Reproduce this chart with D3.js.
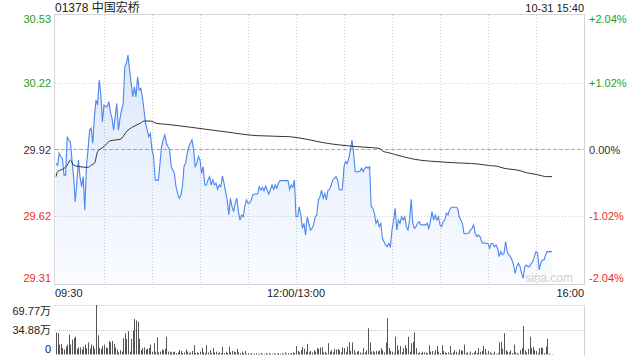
<!DOCTYPE html>
<html>
<head>
<meta charset="utf-8">
<script src="https://cdn.jsdelivr.net/npm/d3@7"></script>
<style>
    body { margin: 0; background: #fff; }
    svg { display: block; }
    text { font-family: "Liberation Sans", Arial, "Noto Sans CJK SC", sans-serif; }
</style>
</head>
<body>
<svg width="640" height="360"></svg>
<script>
var stockTitle = "01378 中国宏桥";
var stampText = "10-31 15:40";
var prevClose = 29.92;

// y ticks (price / percent)
var priceTicks = [30.53, 30.22, 29.92, 29.62, 29.31];
var pctTicks = ["+2.04%", "+1.02%", "0.00%", "-1.02%", "-2.04%"];
var timeLabels = ["09:30", "12:00/13:00", "16:00"];
var timeLabelMinutes = [0, 150, 330];
var volTicks = [69.77, 34.88, 0];

// one value per minute, 09:30 - 11:59
var amPrices = [
    29.857, 29.849, 29.902, 29.887, 29.880, 29.804, 29.804, 29.978, 29.963, 29.955,
    29.872, 29.797, 29.683, 29.766, 29.872, 29.797, 29.751, 29.797, 29.645, 29.842,
    29.918, 30.008, 30.016, 29.948, 30.069, 30.144, 30.122, 30.235, 30.174, 30.046,
    30.122, 30.114, 30.114, 30.137, 30.091, 30.061, 30.008, 30.069, 30.129, 30.008,
    30.061, 30.099, 30.129, 30.295, 30.311, 30.348, 30.280, 30.220, 30.159, 30.205,
    30.159, 30.250, 30.190, 30.197, 30.159, 30.099, 30.038, 30.008, 29.978, 29.993,
    29.918, 29.887, 29.781, 29.781, 29.781, 29.857, 29.933,
    29.964, 29.986, 29.948, 29.933, 29.918, 29.843, 29.827, 29.812, 29.752, 29.722,
    29.699, 29.710, 29.752, 29.843, 29.858, 29.903, 29.933, 29.948, 29.964, 29.918,
    29.843, 29.858, 29.888, 29.873,
    29.812, 29.842, 29.759, 29.759, 29.782, 29.797, 29.759, 29.782, 29.759, 29.767,
    29.739, 29.759, 29.751, 29.800, 29.767, 29.729, 29.691, 29.623, 29.699, 29.661,
    29.638, 29.676, 29.699, 29.638, 29.600, 29.623, 29.615, 29.661, 29.691, 29.676,
    29.676, 29.691, 29.714, 29.718, 29.718, 29.718, 29.751, 29.736, 29.748, 29.733,
    29.754, 29.736, 29.718, 29.736, 29.759, 29.739, 29.759, 29.744, 29.767, 29.779,
    29.779, 29.779, 29.779, 29.779, 29.779, 29.739, 29.759, 29.748, 29.782
];

// one value per minute, 13:00 - 15:40
var pmPrices = [
    29.615, 29.615, 29.661, 29.623, 29.562, 29.585, 29.532, 29.615, 29.585, 29.555,
    29.562, 29.578, 29.615, 29.623, 29.691, 29.706, 29.736, 29.699, 29.721, 29.691,
    29.736, 29.739, 29.759, 29.782, 29.789, 29.797, 29.782, 29.739, 29.736, 29.739,
    29.842, 29.865, 29.857, 29.880, 29.918, 29.963, 29.903, 29.819, 29.819, 29.819,
    29.822, 29.835, 29.819, 29.835, 29.842, 29.835, 29.842, 29.661, 29.653, 29.630,
    29.585, 29.600, 29.570,
    29.585, 29.517, 29.502, 29.487, 29.479, 29.494, 29.479, 29.555, 29.600, 29.653,
    29.555, 29.600, 29.585, 29.615, 29.600, 29.615, 29.570, 29.555, 29.600, 29.694,
    29.585, 29.562, 29.570, 29.585, 29.593, 29.578, 29.578, 29.578, 29.578, 29.585,
    29.562, 29.593, 29.638, 29.600, 29.623, 29.600, 29.615, 29.578, 29.570, 29.593,
    29.600, 29.631, 29.623, 29.646, 29.658, 29.658, 29.658, 29.658, 29.653, 29.615,
    29.600, 29.585, 29.540, 29.537, 29.540, 29.540, 29.555, 29.562, 29.578, 29.540,
    29.525, 29.532, 29.525, 29.502, 29.494, 29.497, 29.494, 29.494, 29.472, 29.494,
    29.494, 29.479, 29.487, 29.472, 29.434, 29.457, 29.442, 29.449, 29.502, 29.457,
    29.442, 29.434, 29.419, 29.396, 29.358, 29.389, 29.404, 29.389, 29.358, 29.336,
    29.389, 29.396, 29.389, 29.389, 29.404, 29.411, 29.434, 29.457, 29.449, 29.374,
    29.404, 29.419, 29.419, 29.442, 29.457, 29.457, 29.457, 29.457
];

// average price line, read at these minutes
var avgMinutes = [0, 1, 3, 5, 7, 9, 11, 15, 20, 22, 24, 26, 30, 34, 40, 45, 49, 53, 55, 59, 63, 68,
    84, 105, 125, 146, 157, 167, 188, 202, 205, 207, 213, 223, 244, 265, 271, 275, 280, 290, 294, 300, 307, 310];
var avgPrices = [29.797, 29.819, 29.827, 29.834, 29.849, 29.872, 29.849, 29.842, 29.839, 29.849, 29.857,
    29.910, 29.933, 29.960, 29.966, 30.008, 30.026, 30.041, 30.049, 30.049, 30.038, 30.035,
    30.021, 30.001, 29.983, 29.978, 29.966, 29.951, 29.933, 29.925, 29.910, 29.907, 29.895, 29.877,
    29.862, 29.853, 29.847, 29.845, 29.835, 29.824, 29.815, 29.807, 29.797, 29.797];

// volume per minute, unit 万
var volumes = [
    31, 30, 14, 15, 9, 7, 11, 14, 28, 14,
    21, 23, 25, 8, 10, 10, 7, 11, 14, 9,
    17, 8, 14, 12, 8, 69.77, 27, 9, 8, 12,
    14, 10, 9, 19, 17, 19, 15, 10, 7, 3,
    6, 4, 23, 30, 22, 33, 4, 22, 34, 50,
    48, 46, 22, 6, 9, 10, 7, 8, 9, 14,
    4, 16, 4, 24, 3, 4, 7, 6, 8, 25,
    4, 4, 3, 3, 4, 2, 3, 6, 5, 2,
    3, 7, 4, 2, 3, 5, 13, 2, 3, 2,
    4, 9, 3, 2, 13, 3, 6, 2, 9, 3,
    4, 2, 3, 2, 11, 2, 4, 2, 11, 3,
    5, 4, 3, 8, 3, 2, 4, 2, 5, 1,
    2, 1, 2, 1, 1, 2, 1, 1, 2, 1,
    1, 2, 1, 2, 1, 1, 2, 1, 1, 2,
    1, 2, 1, 3, 1, 2, 1, 2, 3, 2,
    12, 5, 3, 6, 11, 8, 4, 15, 3, 5,
    3, 6, 4, 9, 8, 10, 10, 3, 4, 2,
    16, 4, 6, 3, 8, 7, 8, 6, 3, 10,
    9, 3, 11, 17, 5, 17, 6, 2, 4, 5,
    3, 2, 9, 3, 6, 37, 17, 4, 5, 3,
    5, 4, 6, 9, 6, 3, 17, 51, 9, 5,
    4, 2, 25, 13, 6, 12, 3, 9, 13, 9,
    25, 4, 16, 18, 31, 9, 2, 3, 2, 4,
    3, 3, 2, 13, 4, 5, 2, 6, 12, 4,
    2, 13, 5, 3, 2, 3, 12, 2, 3, 6,
    4, 2, 7, 6, 5, 14, 2, 3, 1, 4,
    2, 3, 5, 2, 9, 4, 5, 12, 8, 2,
    5, 3, 2, 1, 4, 1, 2, 17, 18, 8,
    30, 6, 4, 3, 6, 2, 14, 3, 2, 1,
    6, 9, 40, 6, 3, 8, 25, 9, 11, 6,
    5, 2, 9, 10, 9, 2, 11, 22, 1, 0.5,
    0.5
];

var prices = amPrices.concat(pmPrices);
var green = "#1e9e1e", red = "#ee2a24", grey = "#d4d4d4";

var svg = d3.select('body').select('svg');

var x = d3.scaleLinear().domain([0, 330]).range([56, 584]);
var y = d3.scaleLinear().domain([priceTicks[4], priceTicks[0]]).range([284, 15]);
var yv = d3.scaleLinear().domain([0, volTicks[0]]).range([354.5, 305]);

function tickColor(i) {
    if (i < 2) return green;
    if (i > 2) return red;
    return "#333";
}

// gradient for the price area
var grad = svg.append("defs").append("linearGradient")
        .attr("id", "areaFill")
        .attr("gradientUnits", "userSpaceOnUse")
        .attr("x1", 0).attr("y1", 15).attr("x2", 0).attr("y2", 284);
grad.append("stop").attr("offset", 0).attr("stop-color", "#4a86ee").attr("stop-opacity", 0.22);
grad.append("stop").attr("offset", 1).attr("stop-color", "#4a86ee").attr("stop-opacity", 0.03);

// vertical grid, every 30 minutes
var gridMinutes = d3.range(30, 330, 30);
svg.append("g").selectAll("line").data(gridMinutes).enter().append("line")
        .attr('x1', function (d) { return Math.round(x(d)) + 0.5; })
        .attr('x2', function (d) { return Math.round(x(d)) + 0.5; })
        .attr('y1', 15).attr('y2', 284)
        .style('stroke', "#d0d0d0")
        .style('stroke-dasharray', "1,2");

// horizontal grid
svg.append("g").selectAll("line").data(priceTicks.slice(1, 4)).enter().append("line")
        .attr('x1', 55).attr('x2', 584)
        .attr('y1', function (d) { return Math.round(y(d)) + 0.5; })
        .attr('y2', function (d) { return Math.round(y(d)) + 0.5; })
        .style('stroke', function (d, i) { return i == 1 ? "#a8a8a8" : "#d0d0d0"; })
        .style('stroke-dasharray', function (d, i) { return i == 1 ? "4,2" : "1,2"; });

// price area + line
var area = d3.area()
        .x(function (d, i) { return x(i); })
        .y0(y(priceTicks[4]))
        .y1(function (d) { return y(d); });
svg.append("path").datum(prices)
        .attr("d", area)
        .style("fill", "url(#areaFill)");

var line = d3.line()
        .x(function (d, i) { return x(i); })
        .y(function (d) { return y(d); });
svg.append("path").datum(prices)
        .attr("d", line)
        .style("fill", "none")
        .style("stroke", "#4a86ee")
        .style("stroke-width", 1.1);

// average price
var avgLine = d3.line()
        .x(function (d, i) { return x(avgMinutes[i]); })
        .y(function (d) { return y(d); })
        .curve(d3.curveMonotoneX);
svg.append("path").datum(avgPrices)
        .attr("d", avgLine)
        .style("fill", "none")
        .style("stroke", "#333")
        .style("stroke-width", 1);

// frame of the price panel
svg.append("rect")
        .attr('x', 54.5).attr('y', 14.5)
        .attr('width', 530).attr('height', 270)
        .style('fill', "none")
        .style('stroke', grey);

svg.append("text")
        .attr('x', 573).attr('y', 282)
        .attr('text-anchor', "end")
        .style('font-size', "12px")
        .style('fill', "#cfcfcf")
        .text("sina.com");

// left / right labels
svg.append("g").selectAll("text").data(priceTicks).enter().append("text")
        .attr('x', 51)
        .attr('y', function (d, i) { return y(d) + (i == 0 ? 8 : (i == 4 ? -2 : 4)); })
        .attr('text-anchor', "end")
        .style('font-size', "11px")
        .style('fill', function (d, i) { return tickColor(i); })
        .text(function (d) { return d.toFixed(2); });

svg.append("g").selectAll("text").data(pctTicks).enter().append("text")
        .attr('x', 589)
        .attr('y', function (d, i) { return y(priceTicks[i]) + (i == 0 ? 8 : (i == 4 ? -2 : 4)); })
        .style('font-size', "11px")
        .style('fill', function (d, i) { return tickColor(i); })
        .text(function (d) { return d; });

// title and time stamp
svg.append("text")
        .attr('x', 55).attr('y', 12)
        .style('font-size', "12px")
        .style('fill', "#222")
        .text(stockTitle);
svg.append("text")
        .attr('x', 584).attr('y', 12)
        .attr('text-anchor', "end")
        .style('font-size', "11px")
        .style('fill', "#222")
        .text(stampText);

// time axis labels
svg.append("g").selectAll("text").data(timeLabels).enter().append("text")
        .attr('x', function (d, i) { return x(timeLabelMinutes[i]) + (i == 0 ? -1 : 0); })
        .attr('y', 297)
        .attr('text-anchor', function (d, i) { return ["start", "middle", "end"][i]; })
        .style('font-size', "11px")
        .style('fill', "#222")
        .text(function (d) { return d; });

// volume panel
svg.append("g").selectAll("line").data(volTicks.slice(0, 2)).enter().append("line")
        .attr('x1', 55).attr('x2', 584)
        .attr('y1', function (d) { return Math.round(yv(d)) + 0.5; })
        .attr('y2', function (d) { return Math.round(yv(d)) + 0.5; })
        .style('stroke', "#c8c8c8")
        .style('stroke-dasharray', "1,1");
svg.append("line")
        .attr('x1', 584.5).attr('x2', 584.5)
        .attr('y1', 305).attr('y2', 356)
        .style('stroke', grey);

svg.append("g").selectAll("rect").data(volumes).enter().append("rect")
        .attr('x', function (d, i) { return Math.round(x(i)); })
        .attr('width', 1)
        .attr('y', function (d) { return yv(d); })
        .attr('height', function (d) { return yv(0) - yv(d); })
        .style('fill', "#555");

svg.append("g").selectAll("text").data(volTicks).enter().append("text")
        .attr('x', 51)
        .attr('y', function (d, i) { return yv(d) + [10, 4, -2][i]; })
        .attr('text-anchor', "end")
        .style('font-size', "11px")
        .style('fill', "#222")
        .text(function (d) { return d == 0 ? "0" : d.toFixed(2) + "万"; });
</script>
</body>
</html>
